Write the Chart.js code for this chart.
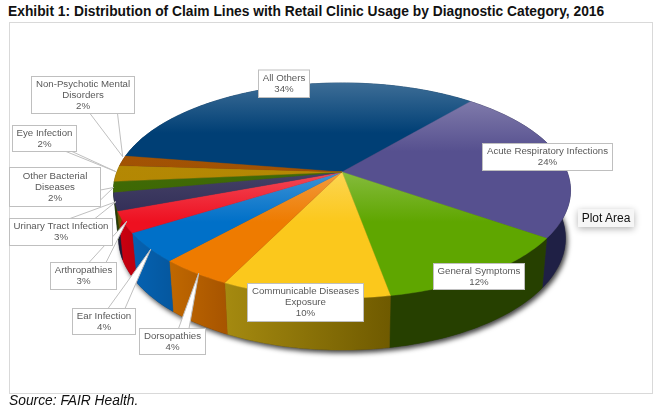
<!DOCTYPE html>
<html>
<head>
<meta charset="utf-8">
<script src="https://cdn.jsdelivr.net/npm/chart.js@4"></script>
<style>
    html, body { margin: 0; padding: 0; background: #fff; }
    body { position: relative; width: 664px; height: 415px; overflow: hidden; font-family: "Liberation Sans", Arial, sans-serif; }
    #titre { position: absolute; left: 8px; top: 4px; font-size: 13.8px; font-weight: bold; color: #111; white-space: nowrap; }
    #cadre { position: absolute; left: 9px; top: 22px; width: 642px; height: 370px; border: 1px solid #d9d9d9; }
    #zone { position: absolute; left: 0; top: 0; width: 664px; height: 415px; }
    #source { position: absolute; left: 9px; top: 393px; font-size: 13.8px; font-style: italic; color: #111; white-space: nowrap; }
    #bulle { position: absolute; left: 578px; top: 209px; width: 56px; height: 18px; line-height: 18px; text-align: center; font-size: 12px; color: #111; background: #f6f6f6; box-shadow: 0 2px 7px rgba(0,0,0,.3); }
</style>
</head>
<body>
<div id="titre">Exhibit 1: Distribution of Claim Lines with Retail Clinic Usage by Diagnostic Category, 2016</div>
<div id="cadre"></div>
<div id="zone"><canvas id="statsChart" width="664" height="415"></canvas></div>
<div id="source">Source: FAIR Health.</div>
<div id="bulle">Plot Area</div>
<script>
const categories = [
    ['All Others'], ['Acute Respiratory Infections'], ['General Symptoms'],
    ['Communicable Diseases', 'Exposure'], ['Dorsopathies'], ['Ear Infection'],
    ['Arthropathies'], ['Urinary Tract Infection'], ['Other Bacterial', 'Diseases'],
    ['Eye Infection'], ['Non-Psychotic Mental', 'Disorders']
];
const valeurs = [33.6, 23.5, 12.4, 10.1, 4.4, 4.4, 3.2, 2.7, 1.6, 2.4, 1.5];

const couleurs = ['#003f75', '#56508f', '#5fa600', '#fbc81c', '#ee7b00', '#0070c8', '#ee1020', '#2f2b55', '#3b6600', '#b38600', '#a05000'];
const flancGauche = ['#002a50', '#1f2045', '#264000', '#a58a10', '#c06800', '#0562b2', '#cc0010', '#1c1a38', '#243e00', '#6e5200', '#623000'];
const flancDroit = ['#002a50', '#1f2045', '#264000', '#6f5a00', '#a85500', '#0558a0', '#c0000f', '#1c1a38', '#243e00', '#6e5200', '#623000'];

// [gauche, haut, droite, bas] of each label box
const boites = [
    [258.5, 70, 309.5, 97.5], [482.5, 143.5, 612.5, 170.5], [433.5, 263.5, 524.5, 289.5],
    [247.5, 283.5, 363.5, 321.5], [139.5, 328.5, 205.5, 354.5], [72.5, 308.5, 135.5, 334.5],
    [50.5, 262.5, 116.5, 289.5], [9.5, 218.5, 112.5, 245.5], [9.5, 167.5, 100.5, 206.5],
    [12.5, 125.5, 76.5, 151.5], [31.5, 76.5, 134.5, 113.5]
];
// the callout wedge of each label, two points on the box then the tip
const pointes = [
    null, null, null, null,
    [[178.5, 328.5], [189, 328.5], [198.7, 273.3]],
    [[108, 308.5], [125, 308.5], [150.7, 249.3]],
    [[89, 262.5], [106, 262.5], [126.7, 221.3]],
    [[70, 218.5], [95, 218.5], [116, 201.7]],
    [[100.5, 190], [100.5, 200], [113.5, 187.5]],
    [[66, 151.5], [72, 151.5], [116, 171.7]],
    [[90, 113.5], [117.5, 113.5], [122.7, 156.7]]
];

// perspective of the disc, relative to the radius given by Chart.js
const fuite = 0.172;
const largeur = 1.085;
const hauteur = 0.503;
const decalage = -35.5;
const baseX = 0.978;
const baseY = 1.04;
const baseDecalage = 11.5;

function pointHaut(el, a) {
    const w = 1 - fuite * Math.sin(a);
    return {
        x: el.x + el.outerRadius * largeur * Math.cos(a) / w,
        y: el.y + decalage + el.outerRadius * hauteur * Math.sin(a) / w
    };
}

function pointBas(el, a) {
    const p = pointHaut(el, a);
    return {
        x: el.x + (p.x - el.x) * baseX,
        y: el.y + baseDecalage + (p.y - el.y - decalage) * baseY
    };
}

function eclaircir(hex, part) {
    const n = parseInt(hex.slice(1), 16);
    const mix = c => Math.round(c + (255 - c) * part);
    return `rgb(${mix(n >> 16)}, ${mix((n >> 8) & 255)}, ${mix(n & 255)})`;
}

function angles(el) {
    const liste = [];
    const pas = Math.max(4, Math.ceil((el.endAngle - el.startAngle) / 0.02));
    for (let i = 0; i <= pas; i++) {
        liste.push(el.startAngle + (el.endAngle - el.startAngle) * i / pas);
    }
    return liste;
}

function dessinerOmbre(ctx, elements) {
    ctx.save();
    ctx.shadowColor = 'rgba(0, 0, 0, 0.75)';
    ctx.shadowBlur = 5;
    ctx.shadowOffsetX = 2;
    ctx.shadowOffsetY = 3;
    ctx.fillStyle = '#333';
    ctx.beginPath();
    elements.forEach(el => angles(el).forEach(a => {
        const p = pointBas(el, a);
        ctx.lineTo(p.x, p.y);
    }));
    ctx.closePath();
    ctx.fill();
    ctx.restore();
}

function dessinerFlanc(ctx, el, i) {
    const liste = angles(el);
    const haut = liste.map(a => pointHaut(el, a));
    const bas = liste.map(a => pointBas(el, a)).reverse();
    const xs = haut.map(p => p.x);
    const degrade = ctx.createLinearGradient(Math.min(...xs), 0, Math.max(...xs), 0);
    degrade.addColorStop(0, flancGauche[i]);
    degrade.addColorStop(1, flancDroit[i]);
    ctx.fillStyle = degrade;
    ctx.strokeStyle = degrade;
    ctx.lineWidth = 0.5;
    ctx.beginPath();
    haut.concat(bas).forEach(p => ctx.lineTo(p.x, p.y));
    ctx.closePath();
    ctx.fill();
    ctx.stroke();
}

function dessinerDessus(ctx, el) {
    const liste = angles(el).map(a => pointHaut(el, a));
    const sommet = { x: el.x, y: el.y + decalage };
    const minY = Math.min(sommet.y, ...liste.map(p => p.y));
    const maxY = Math.max(sommet.y, ...liste.map(p => p.y));
    const base = el.options.backgroundColor;
    // thin slices barely catch the light
    const part = 0.24 * Math.min(1, (maxY - minY) / 60) ** 2;
    const degrade = ctx.createLinearGradient(0, minY, 0, minY + 50);
    degrade.addColorStop(0, eclaircir(base, part));
    degrade.addColorStop(1, base);
    ctx.fillStyle = degrade;
    ctx.strokeStyle = degrade;
    ctx.lineWidth = 0.4;
    ctx.beginPath();
    ctx.moveTo(sommet.x, sommet.y);
    liste.forEach(p => ctx.lineTo(p.x, p.y));
    ctx.closePath();
    ctx.fill();
    ctx.stroke();
}

function dessinerEtiquette(ctx, i) {
    const [g, h, d, b] = boites[i];
    const total = valeurs.reduce((s, v) => s + v, 0);
    const pct = Math.round(valeurs[i] / total * 100) + '%';
    const lignes = categories[i].concat(pct);

    ctx.fillStyle = '#fff';
    ctx.strokeStyle = '#bfbfbf';
    ctx.lineWidth = 1;
    if (pointes[i]) {
        const [p1, p2, p3] = pointes[i];
        ctx.beginPath();
        ctx.moveTo(p1[0], p1[1]);
        ctx.lineTo(p3[0], p3[1]);
        ctx.lineTo(p2[0], p2[1]);
        ctx.closePath();
        ctx.fill();
        ctx.stroke();
    }
    ctx.fillRect(g, h, d - g, b - h);
    ctx.strokeRect(g, h, d - g, b - h);

    ctx.fillStyle = '#595959';
    ctx.font = '9.7px "Liberation Sans", Arial, sans-serif';
    ctx.textAlign = 'center';
    ctx.textBaseline = 'middle';
    const milieu = (h + b) / 2;
    lignes.forEach((texte, n) => {
        ctx.fillText(texte, (g + d) / 2, milieu + (n - (lignes.length - 1) / 2) * 11);
    });
}

const camembert3d = {
    id: 'camembert3d',
    beforeDatasetsDraw(chart) {
        const ctx = chart.ctx;
        const elements = chart.getDatasetMeta(0).data;
        dessinerOmbre(ctx, elements);
        elements.forEach((el, i) => dessinerFlanc(ctx, el, i));
        elements.forEach(el => dessinerDessus(ctx, el));
        elements.forEach((el, i) => dessinerEtiquette(ctx, i));
        return false;
    }
};

new Chart(document.getElementById('statsChart').getContext('2d'), {
    type: 'pie',
    data: {
        labels: categories,
        datasets: [{ data: valeurs, backgroundColor: couleurs, borderWidth: 0 }]
    },
    options: {
        responsive: false,
        animation: false,
        events: [],
        rotation: 279,
        layout: { padding: { left: 20 } },
        plugins: { legend: { display: false }, tooltip: { enabled: false }, title: { display: false } }
    },
    plugins: [camembert3d]
});
</script>
</body>
</html>
